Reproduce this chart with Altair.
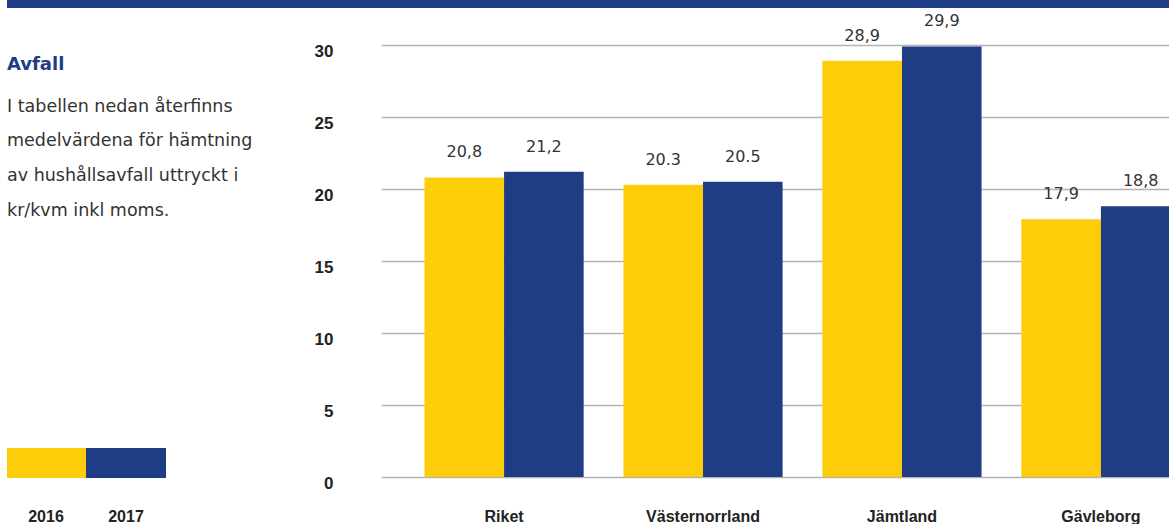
import altair as alt
import pandas as pd

regions = ["Riket", "Västernorrland", "Jämtland", "Gävleborg"]
years = ["2016", "2017"]
v2016 = [20.8, 20.3, 28.9, 17.9]
v2017 = [21.2, 20.5, 29.9, 18.8]
lab2016 = ["20,8", "20.3", "28,9", "17,9"]
lab2017 = ["21,2", "20.5", "29,9", "18,8"]
colors = ["#fdcd0a", "#1f3d84"]

title_text = "Avfall"
body_lines = [
    "I tabellen nedan återfinns",
    "medelvärdena för hämtning",
    "av hushållsavfall uttryckt i",
    "kr/kvm inkl moms.",
]

rows = []
for i, r in enumerate(regions):
    rows.append({"region": r, "year": years[0], "value": v2016[i], "label": lab2016[i]})
    rows.append({"region": r, "year": years[1], "value": v2017[i], "label": lab2017[i]})
df = pd.DataFrame(rows)
one = pd.DataFrame({"k": [0]})

W, H = 788, 432

xenc = alt.X(
    "region:N",
    sort=regions,
    scale=alt.Scale(range=[0, 843], paddingInner=0.2, paddingOuter=0.2186),
    axis=alt.Axis(
        title=None, ticks=False, domain=False, labelAngle=0,
        labelFont="Liberation Sans", labelFontWeight="bold", labelFontSize=16,
        labelColor="#222222", labelPadding=31,
    ),
)
xoff = alt.XOffset("year:N", sort=years, scale=alt.Scale(paddingInner=0, paddingOuter=0))
yenc = alt.Y(
    "value:Q",
    scale=alt.Scale(domain=[0, 30], nice=False),
    axis=alt.Axis(
        title=None, values=[0, 5, 10, 15, 20, 25, 30], ticks=False, domain=False,
        grid=True, gridColor="#b3b3b3", gridWidth=1.5,
        labelFont="Liberation Sans", labelFontWeight="bold", labelFontSize=17,
        labelColor="#222222", labelPadding=48, labelOffset=6,
    ),
)
color = alt.Color("year:N", sort=years, scale=alt.Scale(domain=years, range=colors), legend=None)

base = alt.Chart(df)
bars = base.mark_bar(clip=True).encode(x=xenc, xOffset=xoff, y=yenc, color=color)
vals = base.mark_text(
    dy=-25, baseline="middle", align="center", font="DejaVu Sans", fontSize=16, color="#333333"
).encode(x=xenc, xOffset=xoff, y="value:Q", text="label:N")

top_band = alt.Chart(one).mark_rect(color="#1f3d84").encode(
    x=alt.value(-374), x2=alt.value(W), y=alt.value(-45), y2=alt.value(-37)
)
title = alt.Chart(one).mark_text(
    text=title_text, align="left", baseline="alphabetic", font="DejaVu Sans",
    fontWeight="bold", fontSize=18, color="#1f3d84",
).encode(x=alt.value(-374), y=alt.value(25))
body = alt.Chart(one).mark_text(
    text=body_lines, align="left", baseline="alphabetic", font="DejaVu Sans",
    fontSize=17.5, color="#333333", lineHeight=34.7,
).encode(x=alt.value(-374), y=alt.value(66.5))

sw1 = alt.Chart(one).mark_rect(color=colors[0]).encode(
    x=alt.value(-374), x2=alt.value(-295), y=alt.value(403), y2=alt.value(433)
)
sw2 = alt.Chart(one).mark_rect(color=colors[1]).encode(
    x=alt.value(-295), x2=alt.value(-215), y=alt.value(403), y2=alt.value(433)
)
lg1 = alt.Chart(one).mark_text(
    text=years[0], align="center", baseline="alphabetic", font="Liberation Sans",
    fontWeight="bold", fontSize=16, color="#222222",
).encode(x=alt.value(-335), y=alt.value(477))
lg2 = alt.Chart(one).mark_text(
    text=years[1], align="center", baseline="alphabetic", font="Liberation Sans",
    fontWeight="bold", fontSize=16, color="#222222",
).encode(x=alt.value(-255), y=alt.value(477))

chart = alt.layer(bars, vals, top_band, title, body, sw1, sw2, lg1, lg2).properties(
    width=W, height=H,
    autosize=alt.AutoSizeParams(type="none"),
    padding={"left": 381, "top": 45, "right": 0, "bottom": 47},
    background="white",
).configure_view(stroke=None)

chart.save("out.html", embed_options={"renderer": "svg", "actions": False})
